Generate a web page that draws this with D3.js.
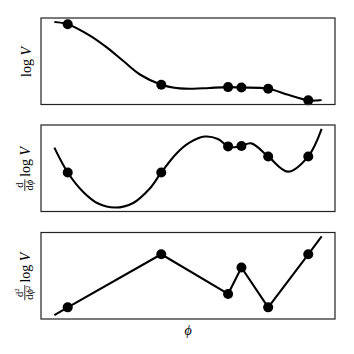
<!DOCTYPE html>
<html>
<head>
<meta charset="utf-8">
<script src="https://cdn.jsdelivr.net/npm/d3@7"></script>
<style>
  body { margin: 0; background: #fff; }
  text { font-family: "Liberation Serif", "DejaVu Serif", serif; fill: #000; }
</style>
</head>
<body>
<svg id="chart" width="354" height="354"></svg>
<script>

// knots of the interpolation (phi positions and the values shown with markers)
const knotPhi = [0.5, 4, 6.5, 7, 8, 9.5];
const knotLogV = [3.80, 0.83, 0.71, 0.69, 0.63, 0.06];
const knotD1 = [0, 0, 1.30, 1.32, 0.80, 0.80];
const knotD2 = [0, 2.65, 0.67, 1.99, 0, 2.65];

// curve samples
const curvePhi1 = [0, 0.5, 1.33, 1.96, 2.58, 3.2, 4, 4.69, 5.2, 5.8, 6.5, 7, 8, 8.75, 9.5, 9.75, 10];
const curveLogV = [3.91, 3.80, 3.24, 2.66, 1.99, 1.33, 0.83, 0.65, 0.63, 0.67, 0.71, 0.69, 0.63, 0.33, 0.06, 0.05, 0.08];

const curvePhi2 = [0, 0.5, 1.08, 1.64, 2.27, 2.95, 3.57, 4, 4.57, 5.07, 5.63, 6.12, 6.5, 6.75, 7, 7.37, 8, 8.74, 9.5, 10];
const curveD1 = [1.24, 0, -0.97, -1.55, -1.75, -1.52, -0.8, 0, 0.95, 1.5, 1.79, 1.67, 1.30, 1.26, 1.32, 1.45, 0.80, 0.04, 0.80, 2.17];

const curvePhi3 = [0, 0.5, 4, 6.5, 7, 8, 9.5, 10];
const curveD2 = [-0.385, 0, 2.65, 0.67, 1.99, 0, 2.65, 3.54];

const panels = [
  { phi: curvePhi1, values: curveLogV, knots: knotLogV, curve: d3.curveCatmullRom.alpha(0.5), num: null, den: null },
  { phi: curvePhi2, values: curveD1, knots: knotD1, curve: d3.curveCatmullRom.alpha(0.5), num: ['d', null], den: ['d', null] },
  { phi: curvePhi3, values: curveD2, knots: knotD2, curve: d3.curveLinear, num: ['d', '2'], den: ['d', '2'] }
];

const svg = d3.select('#chart');
const left = 41, right = 335;
const tops = [18, 125, 232.5];
const panelH = 86.5;

const x = d3.scaleLinear().domain([-0.5, 10.5]).range([left, right]);

panels.forEach(function (p, i) {
  const top = tops[i];
  const ext = d3.extent(p.values);
  const pad = (ext[1] - ext[0]) * 0.05;
  const y = d3.scaleLinear().domain([ext[0] - pad, ext[1] + pad]).range([top + panelH, top]);

  const pts = p.phi.map((d, j) => [d, p.values[j]]);
  const line = d3.line().x(d => x(d[0])).y(d => y(d[1])).curve(p.curve);

  svg.append('path')
    .attr('d', line(pts))
    .attr('fill', 'none')
    .attr('stroke', '#000')
    .attr('stroke-width', 2.1)
    .attr('stroke-linejoin', 'round');

  svg.append('g')
    .selectAll('circle')
    .data(knotPhi)
    .enter()
    .append('circle')
    .attr('cx', d => x(d))
    .attr('cy', (d, j) => y(p.knots[j]))
    .attr('r', 5)
    .attr('fill', '#000');

  // frame
  svg.append('rect')
    .attr('x', left)
    .attr('y', top)
    .attr('width', right - left)
    .attr('height', panelH)
    .attr('fill', 'none')
    .attr('stroke', '#222')
    .attr('stroke-width', 1.2);

  // y label, built horizontally then rotated
  const lab = svg.append('g');
  const inner = lab.append('g');
  let cursor = 0;
  let base = 31;
  if (p.num) {
    const fs = 10.5;
    const n = inner.append('text').attr('font-size', fs).attr('y', -7.5).text(p.num[0]);
    if (p.num[1]) n.append('tspan').attr('font-size', 7).attr('dy', -3.5).text(p.num[1]);
    const dn = inner.append('text').attr('font-size', fs).attr('y', 3).text(p.den[0]);
    dn.append('tspan').attr('font-style', 'italic').text('\u03D5');
    if (p.den[1]) dn.append('tspan').attr('font-size', 7).attr('dy', -3.5).text(p.den[1]);
    const wn = n.node().getComputedTextLength();
    const wd = dn.node().getComputedTextLength();
    const w = Math.max(wn, wd) + 1;
    n.attr('x', (w - wn) / 2);
    dn.attr('x', (w - wd) / 2);
    inner.append('line')
      .attr('x1', 0).attr('x2', w)
      .attr('y1', -5.2).attr('y2', -5.2)
      .attr('stroke', '#000').attr('stroke-width', 0.8);
    cursor = w + 2.5;
    base = 30;
  }
  const t = inner.append('text').attr('font-size', 14).attr('x', cursor).text('log ');
  t.append('tspan').attr('font-style', 'italic').text('V');
  const bb = inner.node().getBBox();
  inner.attr('transform', `translate(${-(bb.x + bb.width / 2)},0)`);
  lab.attr('transform', `translate(${base},${top + panelH / 2}) rotate(-90)`);
});

svg.append('text')
  .attr('x', (left + right) / 2)
  .attr('y', 335)
  .attr('text-anchor', 'middle')
  .attr('font-size', 14)
  .attr('font-style', 'italic')
  .text('\u03D5');

</script>
</body>
</html>
